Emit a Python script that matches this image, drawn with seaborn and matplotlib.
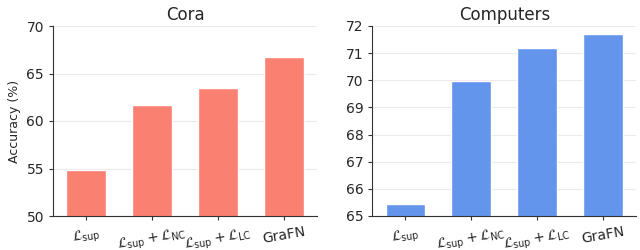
import pandas as pd
import seaborn as sns
import matplotlib
matplotlib.use('Agg')
import matplotlib.pyplot as plt

# Data.
methods = [r'$\mathcal{L}_{\mathrm{sup}}$',
           r'$\mathcal{L}_{\mathrm{sup}} + \mathcal{L}_{\mathrm{NC}}$',
           r'$\mathcal{L}_{\mathrm{sup}} + \mathcal{L}_{\mathrm{LC}}$',
           'GraFN']
cora_acc = [54.8, 61.7, 63.5, 66.7]
computers_acc = [65.45, 69.97, 71.2, 71.7]

panels = [
    ('Cora', cora_acc, '#FA8072', (50, 70), [50, 55, 60, 65, 70]),
    ('Computers', computers_acc, '#6495ED', (65, 72), list(range(65, 73))),
]

sns.set_style('white')
fig, axes = plt.subplots(1, 2, figsize=(6.4, 2.5))
fig.subplots_adjust(left=0.083, right=0.994, top=0.896, bottom=0.136, wspace=0.21)

for ax, (title, acc, color, ylim, yticks) in zip(axes, panels):
    df = pd.DataFrame({'method': methods, 'acc': acc})
    sns.barplot(data=df, x='method', y='acc', color=color, width=0.6,
                saturation=1, ax=ax)
    ax.set_ylim(*ylim)
    ax.set_yticks(yticks)
    ax.set_title(title, fontsize=12, pad=4)
    ax.set_xlabel('')
    ax.set_ylabel('')
    ax.grid(axis='y', color='#ebebeb', linewidth=0.8)
    ax.set_axisbelow(True)
    sns.despine(ax=ax)
    ax.tick_params(axis='both', labelsize=10, length=3, width=0.8,
                   bottom=True, left=True, color='#333333')
    for lab in ax.get_xticklabels():
        lab.set_rotation(10)
    for sp in ax.spines.values():
        sp.set_color('#333333')

axes[0].set_ylabel('Accuracy (%)', fontsize=9)

plt.savefig('out.png', dpi=100)
